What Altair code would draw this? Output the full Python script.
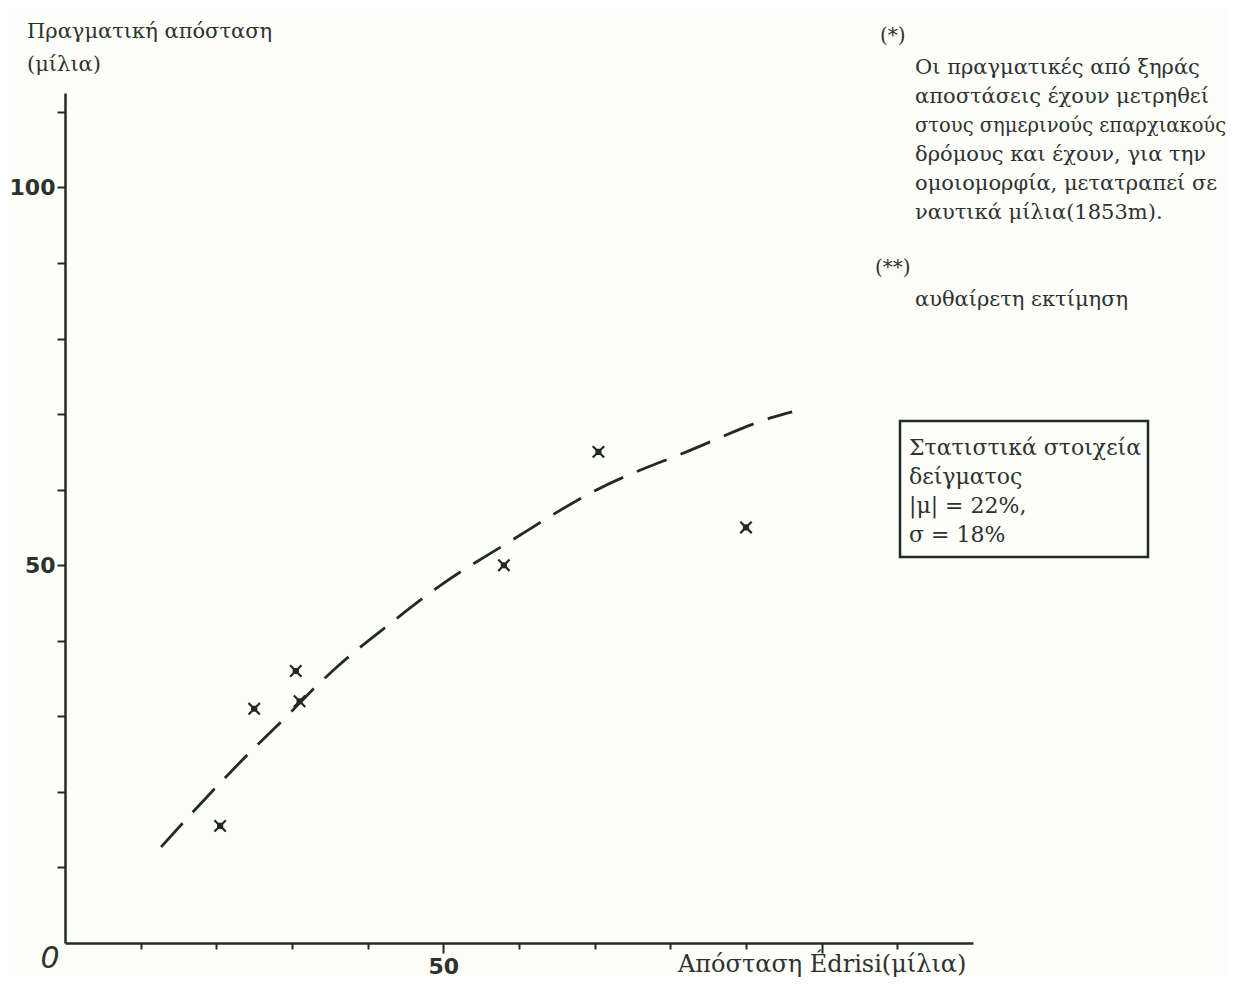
import altair as alt
import pandas as pd

# ---- data ----
edrisi_x = [20.5, 25.0, 30.5, 31.0, 58.0, 70.5, 90.0]
real_y = [15.5, 31.0, 36.0, 32.0, 50.0, 65.0, 55.0]

curve_x = [12.7, 16.5, 20.9, 25.4, 29.5, 32.6, 35.9, 43.0, 50.0, 58.4, 70.3, 82.6, 93.6, 96.1]
curve_y = [12.7, 16.9, 21.6, 26.2, 30.2, 33.4, 36.5, 42.3, 47.6, 52.9, 60.0, 65.2, 69.6, 70.3]

x_ticks = [10, 20, 30, 40, 50, 60, 70, 80, 90, 100, 110]
y_ticks = [10, 20, 30, 40, 50, 60, 70, 80, 90, 100, 110]

y_title_lines = ["Πραγματική απόσταση", "(μίλια)"]
x_title = "Απόσταση Édrisi(μίλια)"
note1_mark = "(*)"
note1_lines = [
    "Οι πραγματικές από ξηράς",
    "αποστάσεις έχουν μετρηθεί",
    "στους σημερινούς επαρχιακούς",
    "δρόμους και έχουν, για την",
    "ομοιομορφία, μετατραπεί σε",
    "ναυτικά μίλια(1853m).",
]
note2_mark = "(**)"
note2_lines = ["αυθαίρετη εκτίμηση"]
box_lines = ["Στατιστικά στοιχεία", "δείγματος", "|μ| = 22%,", "σ  = 18%"]
origin_label = "0"

INK = "#1f2b25"
TEXT = "#2d322f"
SERIF = "DejaVu Serif"
SANS = "DejaVu Sans"

pts = pd.DataFrame({"x": edrisi_x, "y": real_y})
crv = pd.DataFrame({"x": curve_x, "y": curve_y})
dummy = pd.DataFrame({"a": [0]})

xscale = alt.Scale(domain=[0, 120], nice=False, zero=False)
yscale = alt.Scale(domain=[0, 112.5], nice=False, zero=False)

xaxis = alt.Axis(
    values=x_ticks, title=None, grid=False,
    labelExpr="datum.value == 50 ? '50' : ''",
    labelFont=SANS, labelFontWeight="bold", labelFontSize=22, labelColor=TEXT,
    labelPadding=3,
    domainColor=INK, domainWidth=2.5, tickColor=INK, tickWidth=2,
    tickSize={"condition": {"test": "datum.value == 50 || datum.value == 100", "value": 10}, "value": 6},
)
yaxis = alt.Axis(
    values=y_ticks, title=None, grid=False,
    labelExpr="(datum.value == 50 || datum.value == 100) ? datum.label : ''",
    labelFont=SANS, labelFontWeight="bold", labelFontSize=22, labelColor=TEXT,
    labelPadding=2, tickSize=8,
    domainColor=INK, domainWidth=2.5, tickColor=INK, tickWidth=2,
)

line = alt.Chart(crv).mark_line(
    strokeDash=[32, 15], strokeWidth=2.8, color=INK, interpolate="monotone"
).encode(
    x=alt.X("x:Q", scale=xscale, axis=xaxis),
    y=alt.Y("y:Q", scale=yscale, axis=yaxis),
)

star = "M-1,-1L1,1M1,-1L-1,1M-0.35,-0.35L0.35,-0.35L0.35,0.35L-0.35,0.35Z"
points = alt.Chart(pts).mark_point(
    shape=star, filled=False, size=130, strokeWidth=2.2, color=INK, opacity=1
).encode(x=alt.X("x:Q", scale=xscale), y=alt.Y("y:Q", scale=yscale))


def label(text, x, y, size=20, font=SERIF, weight="normal", style="normal", align="left"):
    return alt.Chart(dummy).mark_text(
        text=text, align=align, baseline="middle", font=font, fontSize=size,
        fontWeight=weight, fontStyle=style, color=TEXT,
    ).encode(x=alt.value(x), y=alt.value(y))


layers = [line, points]
# y title (top-left)
layers.append(label(y_title_lines[0], -38, -61, size=21))
layers.append(label(y_title_lines[1], -38, -28, size=21))
# x title
layers.append(label(x_title, 613, 872, size=24))
# origin 0
layers.append(label(origin_label, -15, 866, size=30, font=SANS, style="italic", align="center"))
# notes
layers.append(label(note1_mark, 815, -57, size=20))
for i, t in enumerate(note1_lines):
    layers.append(label(t, 850, -25 + 29 * i, size=(19.5 if len(t) > 27 else 21)))
layers.append(label(note2_mark, 810, 175, size=20))
for i, t in enumerate(note2_lines):
    layers.append(label(t, 850, 207 + 29 * i, size=21))
# statistics box
box = alt.Chart(dummy).mark_rect(fillOpacity=0, stroke=INK, strokeWidth=2.5).encode(
    x=alt.value(835), x2=alt.value(1083), y=alt.value(328), y2=alt.value(464)
)
layers.append(box)
for i, t in enumerate(box_lines):
    layers.append(label(t, 844, 355 + 29 * i, size=22))

chart = alt.layer(*layers).properties(
    width=908, height=850,
    autosize=alt.AutoSizeParams(type="none"),
    padding={"left": 57, "top": 85, "right": 254, "bottom": 34},
    background="#fdfdfa",
).configure_view(stroke=None)

chart.save("out.html", embed_options={"renderer": "svg", "actions": False})
